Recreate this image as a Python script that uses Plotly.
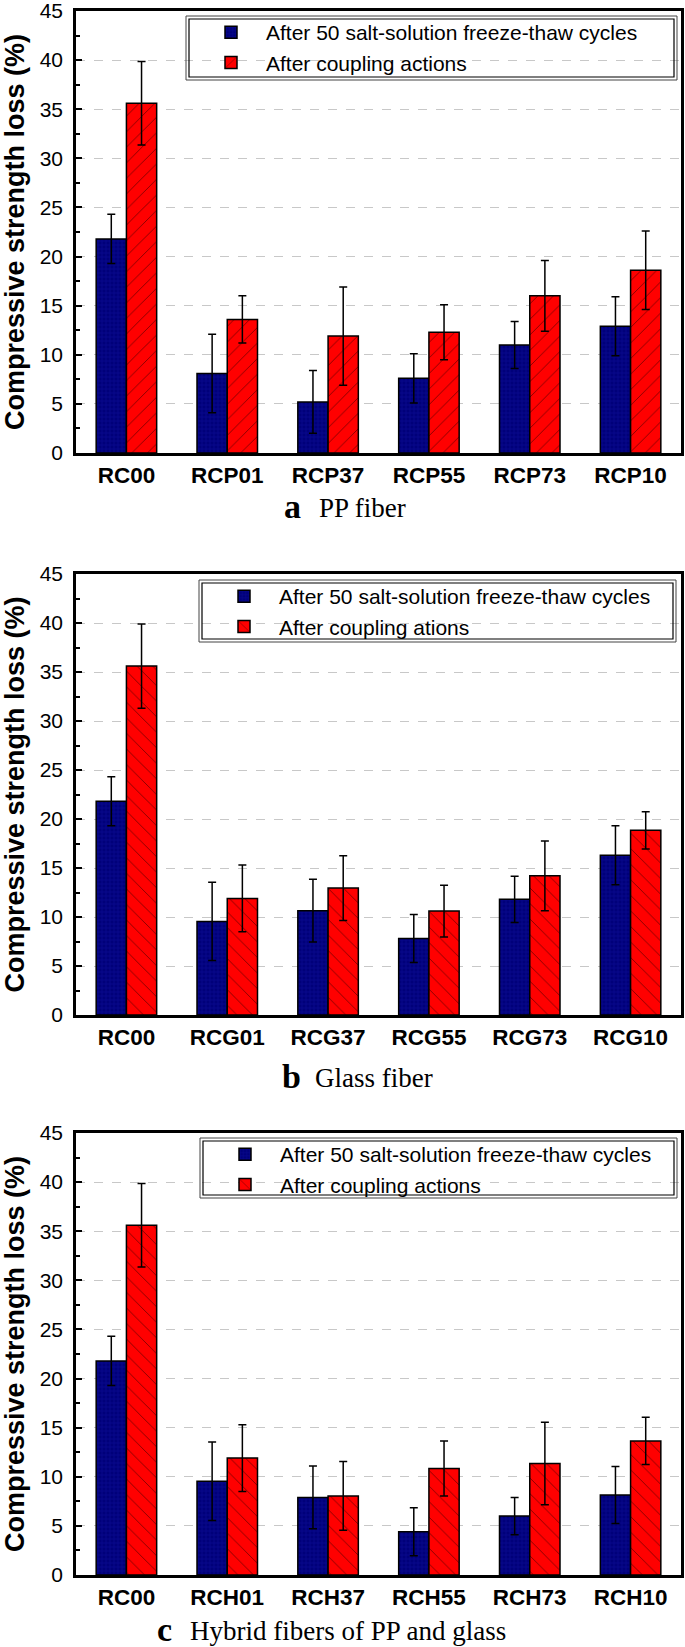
import plotly.graph_objects as go

# ---------------- data ----------------
cats_a = ["RC00", "RCP01", "RCP37", "RCP55", "RCP73", "RCP10"]
cats_b = ["RC00", "RCG01", "RCG37", "RCG55", "RCG73", "RCG10"]
cats_c = ["RC00", "RCH01", "RCH37", "RCH55", "RCH73", "RCH10"]

ft_a = [21.8, 8.1, 5.2, 7.6, 11.0, 12.9]
ft_a_err = [2.5, 4.0, 3.2, 2.5, 2.4, 3.0]
cp_a = [35.6, 13.6, 11.9, 12.3, 16.0, 18.6]
cp_a_err = [4.25, 2.4, 5.0, 2.8, 3.6, 4.0]

ft_b = [21.8, 9.55, 10.65, 7.8, 11.8, 16.3]
ft_b_err = [2.5, 4.0, 3.2, 2.45, 2.35, 3.0]
cp_b = [35.6, 11.9, 12.95, 10.6, 14.2, 18.85]
cp_b_err = [4.3, 3.4, 3.3, 2.65, 3.55, 1.9]

ft_c = [21.8, 9.55, 7.9, 4.4, 6.0, 8.15]
ft_c_err = [2.5, 4.0, 3.2, 2.45, 1.9, 2.9]
cp_c = [35.6, 11.9, 8.05, 10.85, 11.35, 13.65]
cp_c_err = [4.25, 3.4, 3.5, 2.8, 4.2, 2.4]

name_ft = "After 50 salt-solution freeze-thaw cycles"
names_cp = ["After coupling actions", "After coupling ations", "After coupling actions"]
captions = [("a", "PP fiber"), ("b", "Glass fiber"), ("c", "Hybrid fibers of PP and glass")]
y_ticks = [0, 5, 10, 15, 20, 25, 30, 35, 40, 45]

# ---------------- layout geometry ----------------
W, H = 685, 1647
ML, MR, MT, MB = 76, 4, 11, 72
PW = W - ML - MR
PH = H - MT - MB


def pxx(px):
    return (px - ML) / PW


def pxy(py):
    return (H - MB - py) / PH


panels = [
    dict(top=11, bot=453, leg=(186, 16, 677, 80), cap=(282, 317, 517), hatch="/"),
    dict(top=574, bot=1015, leg=(199, 580, 676, 642), cap=(280, 313, 1087), hatch="\\"),
    dict(top=1133, bot=1575, leg=(200, 1138, 677, 1198), cap=(155, 188, 1640), hatch="\\"),
]

data_sets = [
    (cats_a, ft_a, ft_a_err, cp_a, cp_a_err),
    (cats_b, ft_b, ft_b_err, cp_b, cp_b_err),
    (cats_c, ft_c, ft_c_err, cp_c, cp_c_err),
]

fig = go.Figure()
NAVY = "#00007a"
RED = "#ff0000"
FONT = "Liberation Sans, Arial, sans-serif"
SERIF = "Liberation Serif, Times New Roman, serif"
LET_SIZE, CAP_SIZE = 34, 27

layout = dict(
    width=W, height=H,
    margin=dict(l=ML, r=MR, t=MT, b=MB, autoexpand=False),
    paper_bgcolor="white", plot_bgcolor="white",
    barmode="group", bargap=0.4, bargroupgap=0.0,
    font=dict(family=FONT, color="black"),
    shapes=[], annotations=[],
)

for i, (p, ds) in enumerate(zip(panels, data_sets)):
    cats, ft, fte, cp, cpe = ds
    sfx = "" if i == 0 else str(i + 1)
    xa, ya = "x" + sfx, "y" + sfx
    lg = "legend" + sfx
    fig.add_trace(go.Bar(
        x=cats, y=ft, name=name_ft, xaxis=xa, yaxis=ya, legend=lg,
        marker=dict(color=NAVY, line=dict(color="black", width=1.5),
                    pattern=dict(shape="+", fgcolor="#1b1bb0", bgcolor=NAVY, size=4, solidity=0.25)),
        error_y=dict(type="data", array=fte, visible=True, color="black", thickness=1.5, width=4),
    ))
    fig.add_trace(go.Bar(
        x=cats, y=cp, name=names_cp[i], xaxis=xa, yaxis=ya, legend=lg,
        marker=dict(color=RED, line=dict(color="black", width=1.5),
                    pattern=dict(shape=p["hatch"], fgcolor="black", bgcolor=RED, size=11, solidity=0.08)),
        error_y=dict(type="data", array=cpe, visible=True, color="black", thickness=1.5, width=4),
    ))
    dom = [pxy(p["bot"]), pxy(p["top"])]
    layout["xaxis" + sfx] = dict(
        domain=[0, 1], anchor=ya, showline=True, linecolor="black", linewidth=2.5, mirror=True,
        ticks="", showgrid=False, automargin=False, ticklabeloverflow="allow",
        tickfont=dict(family=FONT, size=22.5, weight="bold", color="black"),
        range=[-0.5, 5.5], fixedrange=True,
    )
    layout["yaxis" + sfx] = dict(
        domain=dom, anchor=xa, range=[0, 45], tickvals=y_ticks, automargin=False,
        ticklabeloverflow="allow",
        showline=True, linecolor="black", linewidth=2.5, mirror=True,
        ticks="inside", ticklen=6, tickwidth=1.5, tickcolor="black",
        minor=dict(dtick=2.5, ticks="inside", ticklen=4, tickwidth=1.5, tickcolor="black", showgrid=False),
        showgrid=True, gridcolor="#c8c8c8", griddash="dash", gridwidth=1,
        zeroline=False,
        tickfont=dict(family=FONT, size=21, color="black"),
        ticklabelstandoff=6,
        title=dict(text="Compressive strength loss (%)",
                   font=dict(family=FONT, size=27, weight="bold", color="black"), standoff=9),
    )
    x0, y0, x1, y1 = p["leg"]
    layout[lg] = dict(
        x=pxx(x0 + 10), y=pxy(y0 - 4), xanchor="left", yanchor="top",
        bgcolor="rgba(0,0,0,0)", borderwidth=0, itemwidth=60,
        font=dict(family=FONT, size=21, color="black"),
        tracegroupgap=0, traceorder="normal",
    )
    layout["shapes"].append(dict(type="rect", xref="paper", yref="paper",
                                 x0=pxx(x0), x1=pxx(x1), y0=pxy(y1), y1=pxy(y0),
                                 line=dict(color="#444444", width=1), fillcolor="rgba(0,0,0,0)"))
    layout["shapes"].append(dict(type="rect", xref="paper", yref="paper",
                                 x0=pxx(x0 + 3), x1=pxx(x1 - 3), y0=pxy(y1 - 3), y1=pxy(y0 + 3),
                                 line=dict(color="black", width=1.2), fillcolor="rgba(0,0,0,0)"))
    letter, text = captions[i]
    lx, tx, base = p["cap"]
    # annotation box bottom placed a fixed fraction of the font size below the wanted baseline
    layout["annotations"].append(dict(
        xref="paper", yref="paper", x=pxx(lx), y=pxy(base + 0.29 * LET_SIZE),
        xanchor="left", yanchor="bottom", showarrow=False, text="<b>" + letter + "</b>",
        font=dict(family=SERIF, size=LET_SIZE, color="black"),
    ))
    layout["annotations"].append(dict(
        xref="paper", yref="paper", x=pxx(tx), y=pxy(base + 0.29 * CAP_SIZE),
        xanchor="left", yanchor="bottom", showarrow=False, text=text,
        font=dict(family=SERIF, size=CAP_SIZE, color="black"),
    ))

fig.update_layout(**layout)
fig.write_html(
    "out.html",
    config={"displayModeBar": False},
    post_script="document.body.style.margin='0';document.body.style.overflow='hidden';",
)
